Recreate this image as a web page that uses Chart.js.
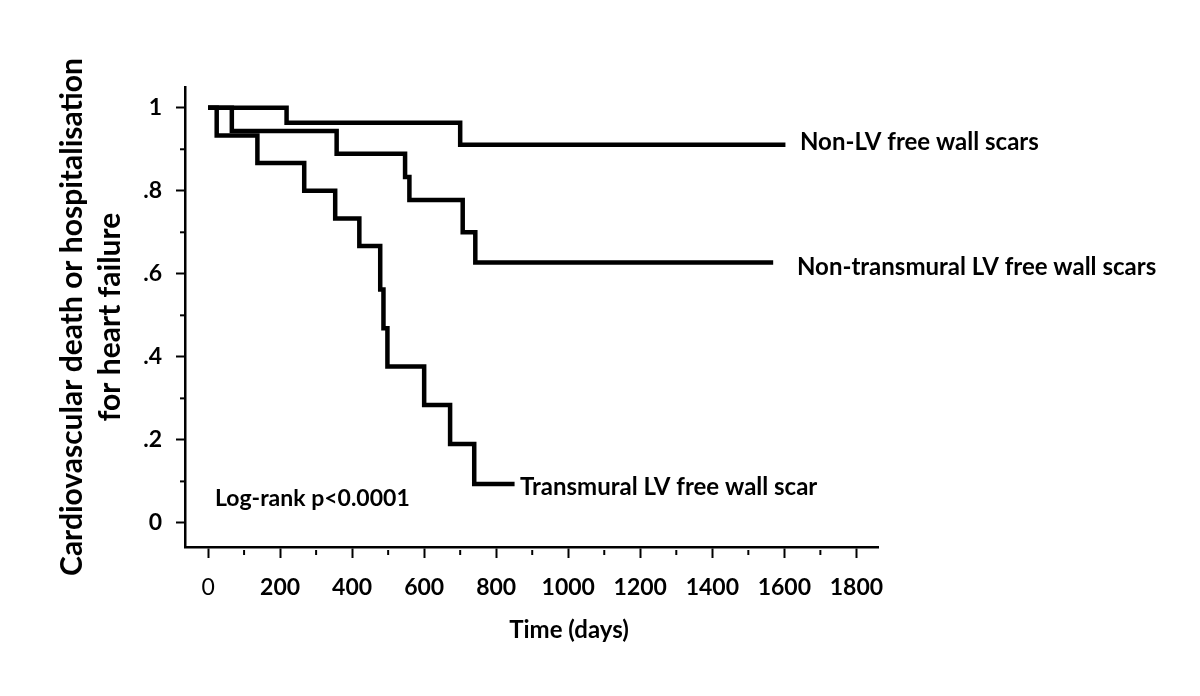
<!DOCTYPE html>
<html>
<head>
<meta charset="utf-8">
<script src="https://cdn.jsdelivr.net/npm/chart.js@4/dist/chart.umd.min.js"></script>
<style>
html,body{margin:0;padding:0;background:#fff}
#wrap{width:1200px;height:696px}
</style>
</head>
<body>
<div id="wrap"><canvas id="km" width="1200" height="696"></canvas></div>
<script>
// Kaplan-Meier curves (days, survival free of event)
const nonLvDays = [0, 218, 700, 1603]
const nonLvSurv = [1, 0.964, 0.911, 0.911]

const nonTransDays = [0, 66, 357, 547, 559, 707, 742, 1569]
const nonTransSurv = [1, 0.944, 0.889, 0.833, 0.778, 0.70, 0.627, 0.627]

const transDays = [0, 24, 137, 267, 353, 420, 478, 487, 498, 600, 672, 739, 851]
const transSurv = [1, 0.933, 0.867, 0.8, 0.733, 0.667, 0.562, 0.469, 0.377, 0.284, 0.19, 0.094, 0.094]

const seriesNames = ["Non-LV free wall scars", "Non-transmural LV free wall scars", "Transmural LV free wall scar"]
const yTitle = ["Cardiovascular death or hospitalisation", "for heart failure"]
const xTitle = "Time (days)"
const pText = "Log-rank p<0.0001"

const yMinor = [0.1, 0.3, 0.5, 0.7, 0.9]
const xMinor = [100, 300, 500, 700, 900, 1100, 1300, 1500, 1700]

function toPoints(days, surv){
return days.map((d,i)=>({x:d, y:surv[i]}))
}

function lineSet(name, days, surv){
return {
label:name,
data:toPoints(days,surv),
stepped:true,
borderColor:"#000",
borderWidth:4.5,
borderCapStyle:"butt",
borderJoinStyle:"miter",
pointRadius:0,
fill:false
}
}

// short ticks between the labelled ones
const minorTicks = {
id:"minorTicks",
afterDraw(chart){
const {ctx, scales:{x,y}} = chart
ctx.save()
ctx.strokeStyle="#000"
ctx.lineWidth=2
yMinor.forEach(v=>{
let p=y.getPixelForValue(v)
ctx.beginPath()
ctx.moveTo(y.right-5,p)
ctx.lineTo(y.right,p)
ctx.stroke()
})
xMinor.forEach(v=>{
let p=x.getPixelForValue(v)
ctx.beginPath()
ctx.moveTo(p,x.top+3)
ctx.lineTo(p,x.top+8)
ctx.stroke()
})
ctx.restore()
}
}

// curve names, log-rank note and x title
const notes = {
id:"notes",
afterDraw(chart){
const ctx=chart.ctx
ctx.save()
ctx.fillStyle="#000"
ctx.textBaseline="middle"
ctx.textAlign="left"
ctx.font="bold 24px Lato"
ctx.fillText(seriesNames[0],800,142)
ctx.fillText(seriesNames[1],797,267)
ctx.fillText(seriesNames[2],520,487)
ctx.font="bold 23px Lato"
ctx.fillText(pText,215,499)
ctx.font="bold 24px Lato"
ctx.textAlign="center"
ctx.fillText(xTitle,569,630)
ctx.restore()
}
}

new Chart(document.getElementById("km"),{
type:"line",
data:{
datasets:[
lineSet(seriesNames[0],nonLvDays,nonLvSurv),
lineSet(seriesNames[1],nonTransDays,nonTransSurv),
lineSet(seriesNames[2],transDays,transSurv)
]
},
options:{
responsive:false,
animation:false,
layout:{padding:{top:87,right:322,left:0,bottom:0}},
plugins:{legend:{display:false},tooltip:{enabled:false}},
scales:{
x:{
type:"linear",
min:-64,
max:1860,
afterFit(s){s.height=149},
border:{display:true,color:"#000",width:2.5},
grid:{drawOnChartArea:false,drawTicks:true,tickLength:11,color:"#000",tickWidth:2},
ticks:{
stepSize:200,
includeBounds:false,
padding:16,
color:"#000",
maxRotation:0,
autoSkip:false,
callback:v=>String(v),
font:c=>({family:"Lato",size:23,weight:c.tick && c.tick.value===0?"normal":"bold"})
}
},
y:{
min:-0.058,
max:1.05,
afterFit(s){s.width=185},
border:{display:true,color:"#000",width:2.5},
grid:{drawOnChartArea:false,drawTicks:true,tickLength:9,color:"#000",tickWidth:2},
ticks:{
stepSize:0.2,
includeBounds:false,
padding:14,
color:"#000",
font:{family:"Lato",size:23,weight:"bold"},
callback:v=>{
let r=Math.round(v*10)/10
if(r===0) return "0"
if(r===1) return "1"
return String(r).replace("0.",".")
}
},
title:{
display:true,
text:yTitle,
color:"#000",
font:{family:"Lato",size:30,weight:"bold",lineHeight:"38px"},
padding:{top:53,bottom:0}
}
}
}
},
plugins:[minorTicks,notes]
})
</script>
</body>
</html>
